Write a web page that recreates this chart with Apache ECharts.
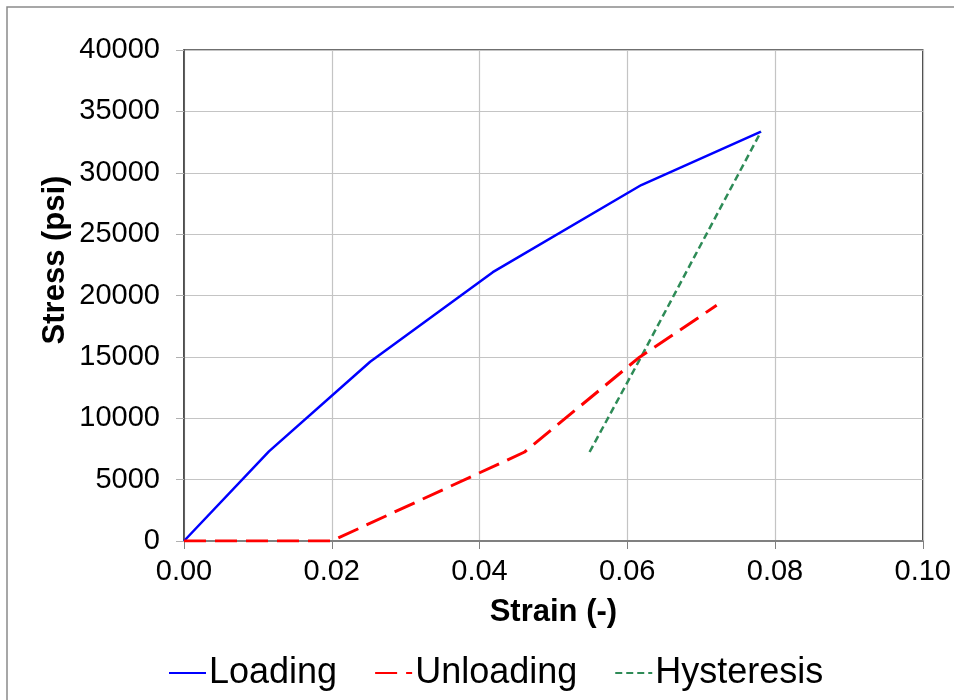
<!DOCTYPE html>
<html>
<head>
<meta charset="utf-8">
<script src="https://cdn.jsdelivr.net/npm/echarts@6/dist/echarts.min.js"></script>
<style>html,body{margin:0;padding:0;background:#fff}#c{width:954px;height:700px}</style>
</head>
<body>
<div id="c"></div>
<script>
const loadingStrain = [0, 0.0115, 0.0252, 0.0418, 0.0619, 0.0781];
const loadingStress = [0, 7300, 14600, 21900, 29000, 33350];
const unloadingStrain = [0, 0.020, 0.0461, 0.0615, 0.0721];
const unloadingStress = [0, 0, 7250, 14900, 19200];
const hysteresisStrain = [0.0549, 0.0617, 0.0781];
const hysteresisStress = [7250, 14800, 33350];
const seriesNames = ['Loading', 'Unloading', 'Hysteresis'];
const xTitle = 'Strain (-)';
const yTitle = 'Stress (psi)';

function pairs(xs, ys) { return xs.map((x, i) => [x, ys[i]]); }

const font = '"Liberation Sans", Arial, sans-serif';
const chart = echarts.init(document.getElementById('c'), null, {renderer: 'canvas'});
chart.setOption({
  animation: false,
  backgroundColor: '#fff',
  grid: {left: 184, right: 31, top: 50, bottom: 159, show: true, borderColor: '#404040', borderWidth: 1.5, backgroundColor: 'transparent'},
  graphic: [
    {type: 'rect', shape: {x: 7, y: 7, width: 1000, height: 1000}, style: {fill: 'none', stroke: '#8a8a8a', lineWidth: 1.5}, z: -1},
    {type: 'text', x: 55, y: 260, rotation: Math.PI / 2,
     style: {text: yTitle, font: 'bold 31px ' + font, fill: '#000', align: 'center', verticalAlign: 'middle'}}
  ],
  legend: {
    left: 163, top: 650,
    itemWidth: 37, itemHeight: 14, itemGap: 37,
    itemStyle: {opacity: 0},
    textStyle: {fontFamily: font, fontSize: 36, color: '#000', padding: [0, 0, 0, -2]},
    data: seriesNames
  },
  xAxis: {
    type: 'value', min: 0, max: 0.1, interval: 0.02,
    name: xTitle, nameLocation: 'middle', nameGap: 56,
    nameTextStyle: {fontFamily: font, fontSize: 31, fontWeight: 'bold', color: '#000'},
    axisLine: {show: true, onZero: false, lineStyle: {color: '#808080', width: 2}},
    axisTick: {show: true, length: 8, inside: false, lineStyle: {color: '#808080'}},
    axisLabel: {fontFamily: font, fontSize: 29, color: '#000', margin: 16, formatter: v => v.toFixed(2)},
    splitLine: {show: true, lineStyle: {color: '#c4c4c4', width: 1.2}}
  },
  yAxis: {
    type: 'value', min: 0, max: 40000, interval: 5000,
    axisLine: {show: true, lineStyle: {color: '#404040', width: 1.5}},
    axisTick: {show: true, length: 8, inside: false, lineStyle: {color: '#b0b0b0'}},
    axisLabel: {fontFamily: font, fontSize: 29, color: '#000', margin: 24, formatter: v => String(v)},
    splitLine: {show: true, lineStyle: {color: '#c4c4c4', width: 1.2}}
  },
  series: [
    {name: seriesNames[0], type: 'line', data: pairs(loadingStrain, loadingStress), showSymbol: false, symbol: 'none',
     lineStyle: {color: '#0000ff', width: 2.5}, itemStyle: {color: '#0000ff'}, z: 3},
    {name: seriesNames[1], type: 'line', data: pairs(unloadingStrain, unloadingStress), showSymbol: false, symbol: 'none',
     lineStyle: {color: '#ff0000', width: 3, type: [22, 9]}, itemStyle: {color: '#ff0000'}, z: 4},
    {name: seriesNames[2], type: 'line', data: pairs(hysteresisStrain, hysteresisStress), showSymbol: false, symbol: 'none',
     lineStyle: {color: '#2e8b57', width: 2.5, type: [7, 4]}, itemStyle: {color: '#2e8b57'}, z: 3}
  ]
});
</script>
</body>
</html>
